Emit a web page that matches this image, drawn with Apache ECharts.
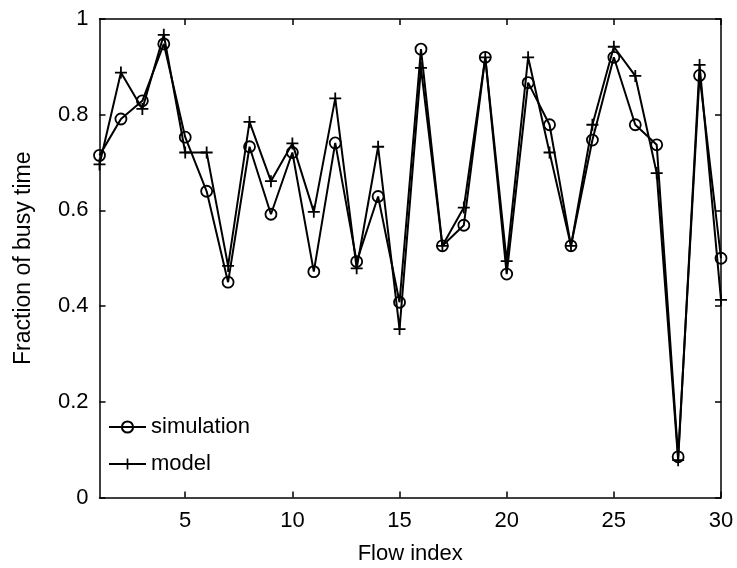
<!DOCTYPE html>
<html>
<head>
<meta charset="utf-8">
<script src="https://cdn.jsdelivr.net/npm/echarts@6/dist/echarts.min.js"></script>
<style>
html,body{margin:0;padding:0;background:#fff;}
#chart{width:737px;height:568px;}
</style>
</head>
<body>
<div id="chart"></div>
<script>
const flowIndex = [1,2,3,4,5,6,7,8,9,10,11,12,13,14,15,16,17,18,19,20,21,22,23,24,25,26,27,28,29,30];
const simulation = [0.715,0.791,0.829,0.948,0.753,0.640,0.450,0.733,0.592,0.721,0.472,0.741,0.493,0.629,0.408,0.937,0.526,0.569,0.920,0.467,0.867,0.779,0.526,0.747,0.920,0.779,0.737,0.085,0.882,0.500];
const model = [0.696,0.888,0.812,0.967,0.721,0.721,0.484,0.785,0.661,0.740,0.597,0.834,0.479,0.733,0.352,0.898,0.526,0.606,0.920,0.494,0.920,0.721,0.526,0.779,0.942,0.881,0.678,0.078,0.904,0.413];
const xTicks = [5,10,15,20,25,30];
const yTicks = [0,0.2,0.4,0.6,0.8,1];

const FONT = 'Liberation Sans, Arial, sans-serif';
const plusPath = 'path://M-0.15,-1 L0.15,-1 L0.15,-0.15 L1,-0.15 L1,0.15 L0.15,0.15 L0.15,1 L-0.15,1 L-0.15,0.15 L-1,0.15 L-1,-0.15 L-0.15,-0.15 Z';

const chart = echarts.init(document.getElementById('chart'), null, {renderer:'canvas'});
const axisLine = {show:true, onZero:false, lineStyle:{color:'#000', width:1.5}};
const tickIn = {show:true, inside:true, length:6, lineStyle:{color:'#000', width:1.5}};

chart.setOption({
  backgroundColor:'#fff',
  animation:false,
  grid:{left:99.5, right:16, top:19, bottom:70.5, containLabel:false, outerBoundsMode:'none'},
  legend:{
    orient:'vertical', left:103, top:410,
    itemWidth:37, itemHeight:14, itemGap:13,
    textStyle:{fontFamily:FONT, fontSize:22, color:'#000', lineHeight:24},
    data:['simulation','model']
  },
  xAxis:[{
    type:'value', min:1, max:30, position:'bottom',
    axisLine:axisLine,
    axisTick:Object.assign({customValues:xTicks}, tickIn),
    axisLabel:{customValues:xTicks, fontFamily:FONT, fontSize:22, color:'#000', margin:12},
    splitLine:{show:false},
    name:'Flow index', nameLocation:'middle', nameGap:45,
    nameTextStyle:{fontFamily:FONT, fontSize:22, color:'#000'}
  },{
    type:'value', min:1, max:30, position:'top',
    axisLine:axisLine,
    axisTick:Object.assign({customValues:xTicks}, tickIn),
    axisLabel:{show:false}, splitLine:{show:false}
  }],
  yAxis:[{
    type:'value', min:0, max:1, interval:0.2, position:'left',
    axisLine:axisLine, axisTick:tickIn,
    axisLabel:{fontFamily:FONT, fontSize:22, color:'#000', margin:11},
    splitLine:{show:false},
    name:'Fraction of busy time', nameLocation:'middle', nameGap:64,
    nameTextStyle:{fontFamily:FONT, fontSize:23, color:'#000'}
  },{
    type:'value', min:0, max:1, interval:0.2, position:'right',
    axisLine:axisLine, axisTick:tickIn,
    axisLabel:{show:false}, splitLine:{show:false}
  }],
  series:[{
    name:'simulation', type:'line',
    data:flowIndex.map((x,i)=>[x, simulation[i]]),
    symbol:'circle', symbolSize:11, showAllSymbol:true,
    lineStyle:{color:'#000', width:2},
    itemStyle:{color:'rgba(255,255,255,0)', borderColor:'#000', borderWidth:1.8}
  },{
    name:'model', type:'line',
    data:flowIndex.map((x,i)=>[x, model[i]]),
    symbol:plusPath, symbolSize:12, showAllSymbol:true,
    lineStyle:{color:'#000', width:2},
    itemStyle:{color:'#000', borderWidth:0}
  }]
});
</script>
</body>
</html>
